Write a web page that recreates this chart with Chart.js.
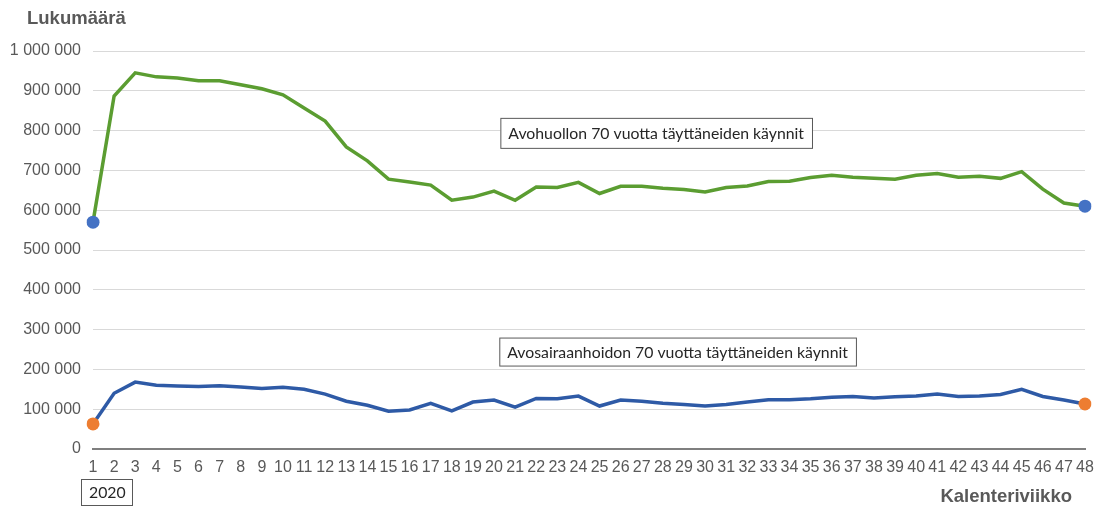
<!DOCTYPE html>
<html>
<head>
<meta charset="utf-8">
<script src="https://cdn.jsdelivr.net/npm/chart.js@4/dist/chart.umd.min.js"></script>
<style>
  html, body { margin: 0; padding: 0; background: #fff; }
  #wrap { width: 1105px; height: 507px; }
</style>
</head>
<body>
<div id="wrap"><canvas id="chart" width="1105" height="507"></canvas></div>
<script>
// Kalenteriviikot 1-48 (2020)
const weeks = [];
for (let w = 1; w <= 48; w++) weeks.push(String(w));

// Avohuollon 70 vuotta täyttäneiden käynnit
const avohuolto = [
  570000, 887000, 945000, 935000, 932000, 925000, 925000, 915000, 905000, 890000,
  857000, 824000, 759000, 724000, 678000, 671000, 663000, 625000, 633000, 648000,
  625000, 658000, 657000, 670000, 642000, 660000, 660000, 655000, 652000, 646000,
  657000, 661000, 672000, 673000, 682000, 688000, 683000, 680000, 678000, 688000,
  692000, 683000, 685000, 680000, 697000, 653000, 618000, 610000
];

// Avosairaanhoidon 70 vuotta täyttäneiden käynnit
const avosairaanhoito = [
  63000, 140000, 168000, 160000, 158000, 157000, 159000, 156000, 152000, 155000,
  150000, 138000, 120000, 110000, 95000, 98000, 115000, 96000, 118000, 123000,
  105000, 127000, 126000, 133000, 108000, 123000, 120000, 115000, 112000, 108000,
  112000, 118000, 124000, 124000, 126000, 130000, 132000, 128000, 131000, 133000,
  138000, 132000, 133000, 137000, 150000, 132000, 123000, 113000
];

const yTicks = [0, 100000, 200000, 300000, 400000, 500000, 600000, 700000, 800000, 900000, 1000000];

function fmt(v) {
  return String(v).replace(/\B(?=(\d{3})+(?!\d))/g, ' ');
}

function endpointRadius(ctx) {
  const n = ctx.dataset.data.length;
  return (ctx.dataIndex === 0 || ctx.dataIndex === n - 1) ? 6.5 : 0;
}

// text labels, boxes drawn on top of the chart
const labelsPlugin = {
  id: 'labels',
  afterDraw(chart) {
    const ctx = chart.ctx;
    const x = chart.scales.x;
    const y = chart.scales.y;
    const boxFont = '15.8px Lato, "Open Sans", sans-serif';
    ctx.save();

    ctx.fillStyle = '#595959';
    ctx.font = 'bold 18.5px "Liberation Sans", Arial, sans-serif';
    ctx.textBaseline = 'middle';
    ctx.textAlign = 'left';
    ctx.fillText('Lukumäärä', 27, 19);

    ctx.textAlign = 'right';
    ctx.fillText('Kalenteriviikko', 1072, 497);

    function box(text, left, top, w, h) {
      ctx.fillStyle = '#fff';
      ctx.fillRect(left, top, w, h);
      ctx.strokeStyle = '#595959';
      ctx.lineWidth = 1;
      ctx.strokeRect(left + 0.5, top + 0.5, w, h);
      ctx.fillStyle = '#262626';
      ctx.font = boxFont;
      ctx.textAlign = 'left';
      ctx.textBaseline = 'middle';
      ctx.fillText(text, left + 8, top + h / 2 + 1);
    }

    // anchored to the scales
    ctx.font = boxFont;
    const t1 = 'Avohuollon 70 vuotta täyttäneiden käynnit';
    box(t1, x.getPixelForValue(19.3), y.getPixelForValue(832000), ctx.measureText(t1).width + 16, 30);

    const t2 = 'Avosairaanhoidon 70 vuotta täyttäneiden käynnit';
    box(t2, x.getPixelForValue(19.25), y.getPixelForValue(280000), ctx.measureText(t2).width + 16, 28);

    box('2020', x.getPixelForValue(0) - 12, 479, 51, 26);

    ctx.restore();
  }
};

new Chart(document.getElementById('chart'), {
  type: 'line',
  data: {
    labels: weeks,
    datasets: [
      {
        label: 'Avohuollon 70 vuotta täyttäneiden käynnit',
        data: avohuolto,
        borderColor: '#5b9d31',
        borderWidth: 3.5,
        tension: 0,
        pointRadius: endpointRadius,
        pointHoverRadius: endpointRadius,
        pointBackgroundColor: '#4472c4',
        pointBorderWidth: 0
      },
      {
        label: 'Avosairaanhoidon 70 vuotta täyttäneiden käynnit',
        data: avosairaanhoito,
        borderColor: '#2e5aa6',
        borderWidth: 3.5,
        tension: 0,
        pointRadius: endpointRadius,
        pointHoverRadius: endpointRadius,
        pointBackgroundColor: '#ed7d31',
        pointBorderWidth: 0
      }
    ]
  },
  options: {
    responsive: false,
    animation: false,
    layout: { padding: { top: 51, right: 20, left: 0, bottom: 0 } },
    plugins: {
      legend: { display: false },
      tooltip: { enabled: false }
    },
    scales: {
      x: {
        offset: false,
        grid: { display: false, drawTicks: false },
        border: { display: true, color: '#7f7f7f', width: 2 },
        ticks: {
          color: '#595959',
          font: { family: '"Liberation Sans", Arial, sans-serif', size: 16 },
          padding: 9,
          maxRotation: 0,
          autoSkip: false
        },
        afterFit(scale) { scale.height = 58; }
      },
      y: {
        min: 0,
        max: 1000000,
        afterBuildTicks(scale) { scale.ticks = yTicks.map(v => ({ value: v })); },
        grid: { color: '#d9d9d9', lineWidth: 1, drawTicks: false },
        border: { display: false },
        ticks: {
          color: '#595959',
          font: { family: '"Liberation Sans", Arial, sans-serif', size: 16 },
          padding: 12,
          callback: v => fmt(v)
        },
        afterFit(scale) { scale.width = 93; }
      }
    }
  },
  plugins: [labelsPlugin]
});
</script>
</body>
</html>
